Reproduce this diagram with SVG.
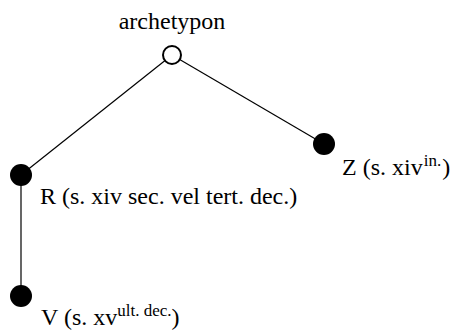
<svg xmlns="http://www.w3.org/2000/svg" width="453" height="332" viewBox="0 0 453 332">
<style>
.sup{font-size:17px}
.edge{stroke:#000;stroke-width:1.2;fill:none}
</style>
<rect width="453" height="332" fill="#fff"/>
<g id="connectors">
<line class="edge" x1="172" y1="55" x2="21" y2="175"/>
<line class="edge" x1="172" y1="55" x2="324" y2="144"/>
<line class="edge" x1="21" y1="175" x2="21" y2="296"/>
</g>
<g font-family="'Liberation Serif', 'Times New Roman', serif" font-size="24" fill="#000">
<g id="archetypon">
<circle cx="172" cy="55" r="9" fill="#fff" stroke="#000" stroke-width="2"/>
<text x="172" y="29" text-anchor="middle">archetypon</text>
</g>
<g id="R">
<circle cx="21" cy="175" r="11" fill="#000"/>
<text x="40" y="204">R (s. xiv sec. vel tert. dec.)</text>
</g>
<g id="Z">
<circle cx="324" cy="144" r="11" fill="#000"/>
<text x="342" y="175">Z (s. xiv<tspan class="sup" dx="1" dy="-9">in.</tspan><tspan dx="1" dy="9">)</tspan></text>
</g>
<g id="V">
<circle cx="21" cy="296" r="11" fill="#000"/>
<text x="41" y="325">V (s. xv<tspan class="sup" dy="-9">ult. dec.</tspan><tspan dy="9">)</tspan></text>
</g>
</g>
</svg>
